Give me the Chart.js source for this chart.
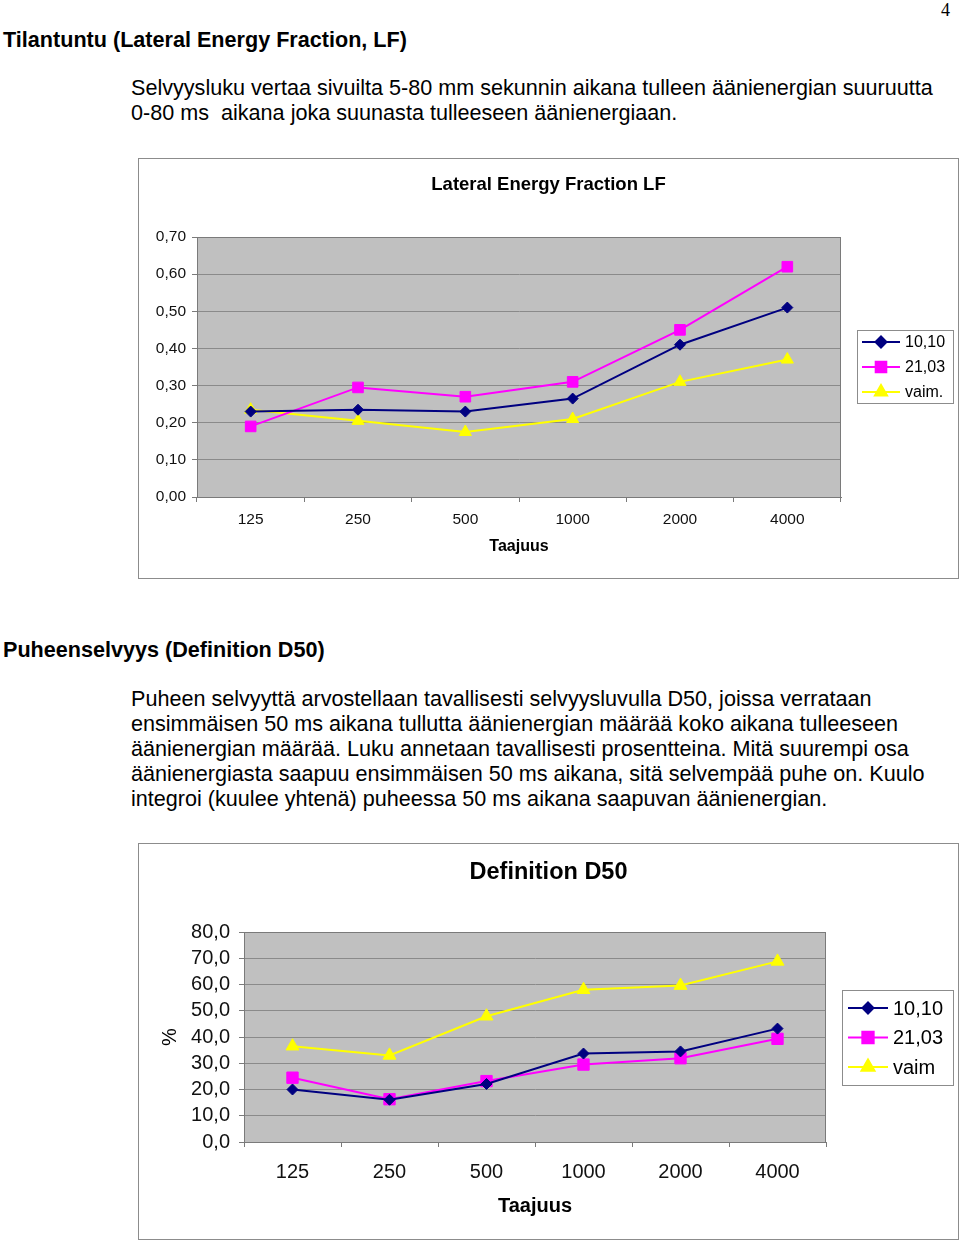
<!DOCTYPE html>
<html>
<head>
<meta charset="utf-8">
<script src="https://cdn.jsdelivr.net/npm/chart.js@4.4.1/dist/chart.umd.min.js"></script>
<style>
  body { margin: 0; width: 960px; height: 1240px; position: relative; background: #fff; overflow: hidden;
         font-family: "Liberation Sans", Arial, sans-serif; color: #000; }
  .t { position: absolute; white-space: nowrap; line-height: 25px; }
  .h { font-weight: bold; font-size: 21.6px; left: 3px; }
  .p { font-size: 21.6px; left: 131px; }
  .pagenum { position: absolute; right: 10px; top: 0px; font-family: "Liberation Serif", serif; font-size: 18px; }
  .box { position: absolute; border: 1px solid #8c8c8c; box-sizing: border-box; }
  canvas { position: absolute; }
</style>
</head>
<body>
<div class="pagenum">4</div>
<div class="t h" style="top:27px">Tilantuntu (Lateral Energy Fraction, LF)</div>
<div class="t p" style="top:75px">Selvyysluku vertaa sivuilta 5-80 mm sekunnin aikana tulleen äänienergian suuruutta<br>0-80 ms&nbsp; aikana joka suunasta tulleeseen äänienergiaan.</div>

<div class="box" style="left:138px;top:158px;width:821px;height:421px"></div>
<canvas id="lfChart" style="left:138px;top:158px" width="821" height="421"></canvas>

<div class="t h" style="top:637px">Puheenselvyys (Definition D50)</div>
<div class="t p" style="top:686px">Puheen selvyyttä arvostellaan tavallisesti selvyysluvulla D50, joissa verrataan<br>ensimmäisen 50 ms aikana tullutta äänienergian määrää koko aikana tulleeseen<br>äänienergian määrää. Luku annetaan tavallisesti prosentteina. Mitä suurempi osa<br>äänienergiasta saapuu ensimmäisen 50 ms aikana, sitä selvempää puhe on. Kuulo<br>integroi (kuulee yhtenä) puheessa 50 ms aikana saapuvan äänienergian.</div>

<div class="box" style="left:138px;top:843px;width:821px;height:397px"></div>
<canvas id="d50Chart" style="left:138px;top:843px" width="821" height="397"></canvas>

<script>
'use strict';

/////// DATA ///////
const freqs = ['125', '250', '500', '1000', '2000', '4000'];

// Lateral Energy Fraction
const lf1010 = [0.23, 0.235, 0.23, 0.265, 0.41, 0.51];
const lf2103 = [0.19, 0.295, 0.27, 0.31, 0.45, 0.62];
const lfVaim = [0.235, 0.205, 0.175, 0.21, 0.31, 0.37];
const lfLabels = ['10,10', '21,03', 'vaim.'];

// Definition D50 (%)
const d50_1010 = [20.0, 16.1, 22.1, 33.7, 34.5, 43.2];
const d50_2103 = [24.5, 16.3, 23.2, 29.5, 31.9, 39.3];
const d50Vaim = [36.5, 33.0, 47.9, 58.0, 59.6, 68.8];
const d50Labels = ['10,10', '21,03', 'vaim'];

/////// STYLE ///////
const NAVY = '#000080';
const PINK = '#ff00ff';
const YEL = '#ffff00';
const GRID = '#8a8a8a';
const AXIS = '#7a7a7a';
const FONT = '"Liberation Sans", Arial, sans-serif';

// grey plot area + frame, Excel style
const plotBg = {
  id: 'plotBg',
  beforeDraw(chart) {
    const {ctx, chartArea: a} = chart;
    ctx.save();
    ctx.fillStyle = '#c0c0c0';
    ctx.fillRect(a.left, a.top, a.right - a.left, a.bottom - a.top);
    ctx.restore();
  },
  beforeDatasetsDraw(chart) {
    const {ctx, chartArea: a} = chart;
    ctx.save();
    ctx.strokeStyle = AXIS;
    ctx.lineWidth = 1;
    ctx.strokeRect(a.left + 0.5, a.top + 0.5, a.right - a.left - 1, a.bottom - a.top);
    ctx.restore();
  }
};

// chart title centred on the whole frame (built-in one centres on the padded box)
const frameTitle = {
  id: 'frameTitle',
  afterDraw(chart, args, o) {
    const ctx = chart.ctx;
    ctx.save();
    ctx.font = 'bold ' + o.size + 'px ' + FONT;
    ctx.fillStyle = '#000';
    ctx.textAlign = 'center';
    ctx.textBaseline = 'middle';
    ctx.fillText(o.text, chart.width / 2, o.y);
    ctx.restore();
  }
};

// boxed legend with line + marker, to the right of the plot
const boxLegend = {
  id: 'boxLegend',
  afterDraw(chart, args, o) {
    const {ctx, chartArea: a} = chart;
    const x0 = a.right + o.dx;
    const y0 = o.top;
    ctx.save();
    ctx.strokeStyle = '#8c8c8c';
    ctx.lineWidth = 1;
    ctx.strokeRect(x0 + 0.5, y0 + 0.5, o.w, o.h);
    ctx.font = o.fontSize + 'px ' + FONT;
    ctx.textBaseline = 'middle';
    ctx.fillStyle = '#000';
    chart.data.datasets.forEach((ds, i) => {
      const y = y0 + o.firstRow + i * o.rowH;
      ctx.strokeStyle = ds.borderColor;
      ctx.lineWidth = 2;
      ctx.beginPath();
      ctx.moveTo(x0 + o.lineX0, y);
      ctx.lineTo(x0 + o.lineX1, y);
      ctx.stroke();
      ctx.fillStyle = ds.pointBackgroundColor;
      ctx.strokeStyle = ds.pointBorderColor;
      Chart.helpers.drawPoint(ctx, {pointStyle: ds.pointStyle, radius: ds.pointRadius, rotation: 0, borderWidth: 1},
        x0 + (o.lineX0 + o.lineX1) / 2, y);
      ctx.fillStyle = '#000';
      ctx.fillText(ds.label, x0 + o.textX, y + 1);
    });
    ctx.restore();
  }
};

function series(label, data, color, style, radius) {
  return {
    label: label,
    data: data,
    borderColor: color,
    borderWidth: 2,
    pointStyle: style,
    pointRadius: radius,
    pointBackgroundColor: color,
    pointBorderColor: color,
    pointBorderWidth: 1,
    tension: 0
  };
}

function comma(v, d) {
  return v.toFixed(d).replace('.', ',');
}

/////// LF CHART ///////
new Chart(document.getElementById('lfChart'), {
  type: 'line',
  data: {
    labels: freqs,
    datasets: [
      series(lfLabels[0], lf1010, NAVY, 'rectRot', 5.5),
      series(lfLabels[1], lf2103, PINK, 'rect', 7.5),
      series(lfLabels[2], lfVaim, YEL, 'triangle', 7)
    ]
  },
  options: {
    responsive: false,
    animation: false,
    devicePixelRatio: 1,
    layout: {padding: {left: 0, right: 118, top: 79, bottom: 23}},
    plugins: {
      legend: {display: false},
      tooltip: {enabled: false},
      frameTitle: {text: 'Lateral Energy Fraction LF', size: 18.5, y: 26.5},
      boxLegend: {dx: 16, top: 172, w: 96, h: 73, firstRow: 12, rowH: 25, lineX0: 5, lineX1: 43, textX: 48, fontSize: 16}
    },
    scales: {
      x: {
        offset: true,
        afterFit(s) { s.height = 59; },
        grid: {offset: true, drawOnChartArea: false, tickLength: 5, tickColor: AXIS},
        border: {color: AXIS},
        ticks: {color: '#111', padding: 8, autoSkip: false, font: {family: FONT, size: 15.5}},
        title: {display: true, text: 'Taajuus', color: '#000', padding: 0, font: {family: FONT, size: 16, weight: 'bold'}}
      },
      y: {
        min: 0,
        max: 0.7,
        afterFit(s) { s.width = 59; },
        grid: {color: GRID, tickLength: 5, tickColor: AXIS},
        border: {color: AXIS},
        ticks: {stepSize: 0.1, color: '#111', padding: 6, autoSkip: false, font: {family: FONT, size: 15.5},
          callback: v => comma(v, 2)}
      }
    }
  },
  plugins: [plotBg, frameTitle, boxLegend]
});

/////// D50 CHART ///////
new Chart(document.getElementById('d50Chart'), {
  type: 'line',
  data: {
    labels: freqs,
    datasets: [
      series(d50Labels[0], d50_1010, NAVY, 'rectRot', 5.5),
      series(d50Labels[1], d50_2103, PINK, 'rect', 8),
      series(d50Labels[2], d50Vaim, YEL, 'triangle', 7.5)
    ]
  },
  options: {
    responsive: false,
    animation: false,
    devicePixelRatio: 1,
    layout: {padding: {left: 0, right: 133, top: 89, bottom: 22}},
    plugins: {
      legend: {display: false},
      tooltip: {enabled: false},
      frameTitle: {text: 'Definition D50', size: 23.5, y: 30},
      boxLegend: {dx: 16, top: 147, w: 111, h: 95, firstRow: 18, rowH: 29.5, lineX0: 6, lineX1: 46, textX: 51, fontSize: 20}
    },
    scales: {
      x: {
        offset: true,
        afterFit(s) { s.height = 76; },
        grid: {offset: true, drawOnChartArea: false, tickLength: 5, tickColor: AXIS},
        border: {color: AXIS},
        ticks: {color: '#111', padding: 13, autoSkip: false, font: {family: FONT, size: 20}},
        title: {display: true, text: 'Taajuus', color: '#000', padding: 0, font: {family: FONT, size: 20, weight: 'bold'}}
      },
      y: {
        min: 0,
        max: 80,
        afterFit(s) { s.width = 106; },
        grid: {color: GRID, tickLength: 5, tickColor: AXIS},
        border: {color: AXIS},
        ticks: {stepSize: 10, color: '#111', padding: 9, autoSkip: false, font: {family: FONT, size: 20},
          callback: v => comma(v, 1)},
        title: {display: true, text: '%', color: '#000', padding: {top: 20, bottom: 0}, font: {family: FONT, size: 20}}
      }
    }
  },
  plugins: [plotBg, frameTitle, boxLegend]
});
</script>
</body>
</html>
